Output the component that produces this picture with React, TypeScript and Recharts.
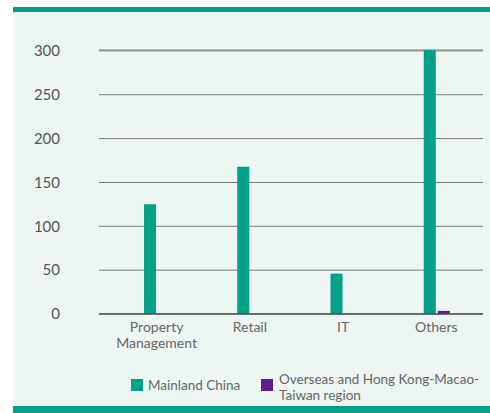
import React from "react";
import { BarChart, Bar, XAxis, YAxis, CartesianGrid, Legend } from "recharts";

const categories = ["Property Management", "Retail", "IT", "Others"];
const mainlandChina = [125, 168, 46, 301];
const overseasHKMT = [0.4, 0.3, 0.4, 3.5];
const yTicks = [0, 50, 100, 150, 200, 250, 300];
const seriesNames = ["Mainland China", "Overseas and Hong Kong-Macao-Taiwan region"];

const GREEN = "#00A187";
const PURPLE = "#631A8C";
const FONT = "Lato, 'Open Sans', sans-serif";

const data = categories.map((c, i) => ({
  category: c,
  mainland: mainlandChina[i],
  overseas: overseasHKMT[i],
}));

const XTick = (props: any) => {
  const { x, y, payload } = props;
  const words: string[] = String(payload.value).split(" ");
  return (
    <text x={x} y={y} textAnchor="middle" fill="#666" fontSize={14} fontFamily={FONT}>
      {words.map((w, i) => (
        <tspan key={i} x={x} dy={i === 0 ? 18 : 16}>
          {w}
        </tspan>
      ))}
    </text>
  );
};

const splitName = (name: string) => {
  const idx = name.indexOf("Macao-");
  if (idx < 0) return [name];
  const cut = idx + "Macao-".length;
  return [name.slice(0, cut), name.slice(cut)];
};

const LegendContent = () => {
  const lines = splitName(seriesNames[1]);
  return (
    <div
      style={{
        position: "relative",
        width: 490,
        height: 36,
        fontFamily: FONT,
        fontSize: 13.5,
        color: "#666",
        lineHeight: "16px",
      }}
    >
      <div style={{ position: "absolute", left: 131, top: 6, display: "flex", alignItems: "center", whiteSpace: "nowrap" }}>
        <span style={{ width: 12, height: 12, flexShrink: 0, background: GREEN, display: "inline-block", marginRight: 5 }} />
        <span>{seriesNames[0]}</span>
      </div>
      <div style={{ position: "absolute", left: 261, top: 0, display: "flex", alignItems: "flex-start", whiteSpace: "nowrap" }}>
        <span style={{ width: 12, height: 12, flexShrink: 0, background: PURPLE, display: "inline-block", marginRight: 6, marginTop: 8 }} />
        <span>
          {lines[0]}
          {lines.length > 1 ? <br /> : null}
          {lines[1]}
        </span>
      </div>
    </div>
  );
};

export default function App() {
  return (
    <div style={{ position: "absolute", left: 0, top: 0, width: 490, height: 413, background: "#fff" }}>
      <div style={{ position: "absolute", left: 13, top: 7, width: 477, height: 406, background: "#EEF6F3" }} />
      <div style={{ position: "absolute", left: 13, top: 7, width: 477, height: 5, background: "#00A088" }} />
      <div style={{ position: "absolute", left: 13, top: 406, width: 477, height: 7, background: "#00A088" }} />
      <div style={{ position: "absolute", left: 0, top: 0 }}>
        <BarChart
          width={490}
          height={413}
          data={data}
          margin={{ top: 50, right: 7, left: 0, bottom: 0 }}
          barSize={12}
          barGap={2}
        >
          <CartesianGrid horizontal vertical={false} stroke="#7a7a7a" strokeWidth={1} />
          <XAxis
            dataKey="category"
            height={99}
            tickLine={false}
            tickSize={0}
            tickMargin={0}
            axisLine={{ stroke: "#555", strokeWidth: 1.5 }}
            padding={{ left: 11, right: 0 }}
            tick={<XTick />}
            interval={0}
          />
          <YAxis
            width={99}
            domain={[0, 300]}
            ticks={yTicks}
            axisLine={false}
            tickLine={false}
            tickSize={0}
            tickMargin={39}
            tick={{ fill: "#555", fontSize: 15, fontFamily: FONT }}
          />
          <Legend
            layout="horizontal"
            verticalAlign="middle"
            align="center"
            wrapperStyle={{ top: 371, left: 0, width: 490 }}
            content={<LegendContent />}
          />
          <Bar dataKey="mainland" name={seriesNames[0]} fill={GREEN} isAnimationActive={false} />
          <Bar dataKey="overseas" name={seriesNames[1]} fill={PURPLE} isAnimationActive={false} />
        </BarChart>
      </div>
    </div>
  );
}
